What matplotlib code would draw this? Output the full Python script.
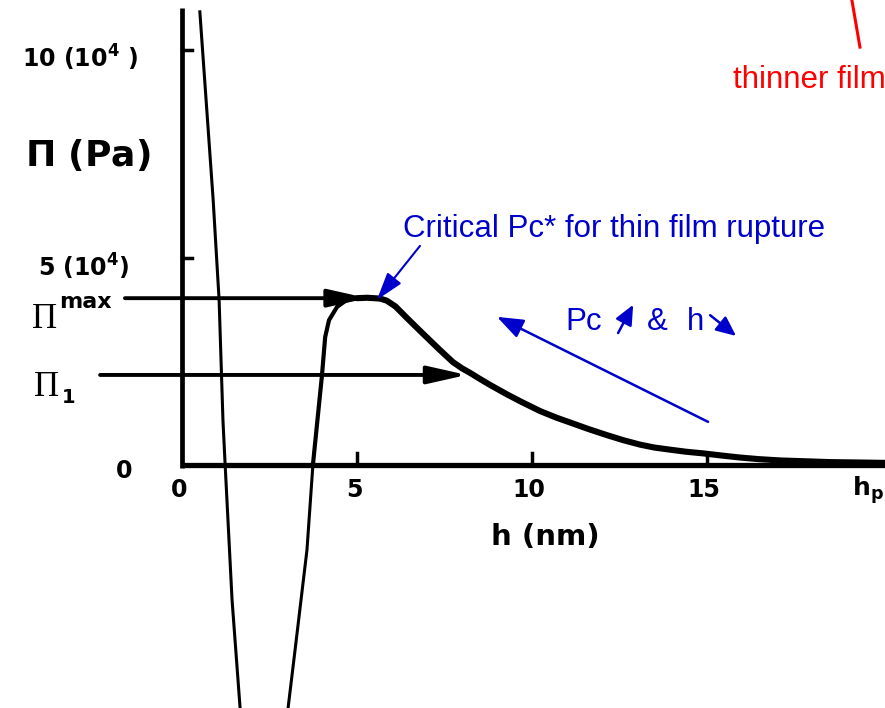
import numpy as np
import matplotlib.pyplot as plt

# disjoining pressure isotherm (Pi in units of 1e4 Pa, h in nm)
h_curve = [2.95, 3.03, 3.23, 3.57, 3.74, 4.0, 4.09, 4.2, 4.43, 4.71, 5.0, 5.3, 5.66, 5.85,
           6.1, 6.43, 6.89, 7.37, 7.74, 8.0, 8.23, 8.5, 8.8, 9.29, 9.7, 10.23, 10.7,
           11.17, 11.6, 12.14, 12.6, 13.09, 13.5, 14.03, 14.4, 14.89, 15.4, 15.94,
           16.5, 17.09, 18.5, 20.2]
pi_curve = [-6.2, -5.86, -4.46, -2.05, 0.0, 2.17, 3.08, 3.49, 3.81, 3.98, 4.02, 4.03, 4.01, 3.96,
            3.82, 3.54, 3.16, 2.77, 2.48, 2.33, 2.22, 2.08, 1.93, 1.7, 1.52, 1.3, 1.14,
            1.0, 0.87, 0.72, 0.6, 0.49, 0.42, 0.36, 0.32, 0.28, 0.23, 0.18,
            0.14, 0.11, 0.07, 0.05]

# steep repulsive branch near the wall
h_steep = [0.51, 0.89, 1.06, 1.17, 1.23, 1.43, 1.66, 1.68]
pi_steep = [10.92, 6.39, 3.98, 1.08, 0.05, -3.25, -5.86, -6.2]

pi_max = 4.02
pi_1 = 2.17
h_pimax_tip = 5.3
h_pi1_tip = 8.14

x_ticks = [0, 5, 10, 15]
x_tick_labels = ['0', '5', '10', '15']
y_ticks = [5, 10]
y_tick_labels = [r'5 (10$^{\mathbf{4}}$)', r'10 (10$^{\mathbf{4}}$ )']

blue = '#0000CC'
plt.rcParams['mathtext.fontset'] = 'dejavusans'

fig = plt.figure(figsize=(8.85, 7.08), dpi=100)
ax = fig.add_axes([0, 0, 1, 1])
ax.set_xlim(-182 / 35, 703 / 35)
ax.set_ylim(-243 / 41.5, 465 / 41.5)
ax.axis('off')

# hand-drawn axes
ax.plot([0, 0], [-0.07, 11.01], color='black', lw=3.4, solid_capstyle='butt')
ax.plot([0, 20.2], [0, 0], color='black', lw=3.8, solid_capstyle='butt')
for t in x_ticks[1:]:
    ax.plot([t, t], [0, 0.3], color='black', lw=2.5)
for t in y_ticks:
    ax.plot([0, 0.29], [t, t], color='black', lw=2.5)

# curves: thin below the axis, heavier towards the maximum and the tail
ax.plot(h_steep, pi_steep, color='black', lw=2.2, solid_joinstyle='round')
ax.plot(h_curve[:5], pi_curve[:5], color='black', lw=2.2, solid_joinstyle='round')
ax.plot(h_curve[4:11], pi_curve[4:11], color='black', lw=3.0, solid_joinstyle='round',
        solid_capstyle='round')
ax.plot(h_curve[10:], pi_curve[10:], color='black', lw=4.4, solid_joinstyle='round',
        solid_capstyle='round')

# pressure levels with arrows onto the isotherm
for x0, x1, yv in [(-1.63, h_pimax_tip, pi_max), (-2.34, h_pi1_tip, pi_1)]:
    ax.annotate('', xy=(x1, yv), xytext=(x0, yv),
                arrowprops=dict(arrowstyle='-|>,head_length=1.2,head_width=0.27',
                                color='black', lw=2.8, mutation_scale=20,
                                shrinkA=0, shrinkB=0))

# tick labels
bold = dict(fontfamily='DejaVu Sans', fontweight='bold', color='black')
for t, lab in zip(x_ticks, x_tick_labels):
    ax.text(t - 0.08, -0.6, lab, ha='center', va='center', fontsize=17, **bold)
ax.text(19.14, -0.6, r'h$_{\mathbf{p}}$', ha='left', va='center', fontsize=18, **bold)
ax.text(-1.66, -0.145, '0', ha='center', va='center', fontsize=17, **bold)
ax.text(-4.57, 9.57, y_tick_labels[1], ha='left', va='baseline', fontsize=17, **bold)
ax.text(-4.11, 4.53, y_tick_labels[0], ha='left', va='baseline', fontsize=17, **bold)
ax.text(-4.49, 7.2, r'$\mathbf{\Pi}$ (Pa)', ha='left', va='baseline', fontsize=26, **bold)
ax.text(10.37, -1.73, 'h (nm)', ha='center', va='center', fontsize=21, **bold)

# Pi^max and Pi_1 labels
ax.text(-4.28, 3.3, 'Π', ha='left', va='baseline', fontsize=25,
        fontfamily='Liberation Serif', color='black')
ax.text(-3.52, 3.78, 'max', ha='left', va='baseline', fontsize=16, **bold)
ax.text(-4.22, 1.66, 'Π', ha='left', va='baseline', fontsize=25,
        fontfamily='Liberation Serif', color='black')
ax.text(-3.42, 1.5, '1', ha='left', va='baseline', fontsize=14, **bold)

# annotations
ann = dict(fontfamily='Liberation Sans', fontsize=22.5, color=blue)
ax.text(6.31, 5.49, 'Critical Pc* for thin film rupture', ha='left', va='baseline', **ann)
ax.annotate('', xy=(5.57, 3.98), xytext=(6.8, 5.28),
            arrowprops=dict(arrowstyle='-|>,head_length=0.85,head_width=0.27',
                            color=blue, lw=1.5, mutation_scale=20,
                            shrinkA=0, shrinkB=0))
ax.annotate('', xy=(9.0, 3.57), xytext=(15.03, 1.04),
            arrowprops=dict(arrowstyle='-|>,head_length=0.8,head_width=0.3',
                            color=blue, lw=1.8, mutation_scale=20,
                            shrinkA=0, shrinkB=0))
ax.text(10.94, 3.25, 'Pc', ha='left', va='baseline', **ann)
ax.text(13.29, 3.25, '&', ha='left', va='baseline', **ann)
ax.text(14.43, 3.25, 'h', ha='left', va='baseline', **ann)
ax.annotate('', xy=(12.89, 3.86), xytext=(12.46, 3.18),
            arrowprops=dict(arrowstyle='-|>,head_length=0.6,head_width=0.27',
                            color=blue, lw=1.8, mutation_scale=20,
                            shrinkA=0, shrinkB=0))
ax.annotate('', xy=(15.83, 3.11), xytext=(15.09, 3.61),
            arrowprops=dict(arrowstyle='-|>,head_length=0.6,head_width=0.27',
                            color=blue, lw=1.8, mutation_scale=20,
                            shrinkA=0, shrinkB=0))

ax.text(15.74, 9.08, 'thinner film', ha='left', va='baseline',
        fontfamily='Liberation Sans', fontsize=22.5, color='red')
ax.plot([19.14, 19.37], [11.2, 10.07], color='red', lw=2.2)

fig.savefig('out.png', dpi=100)
